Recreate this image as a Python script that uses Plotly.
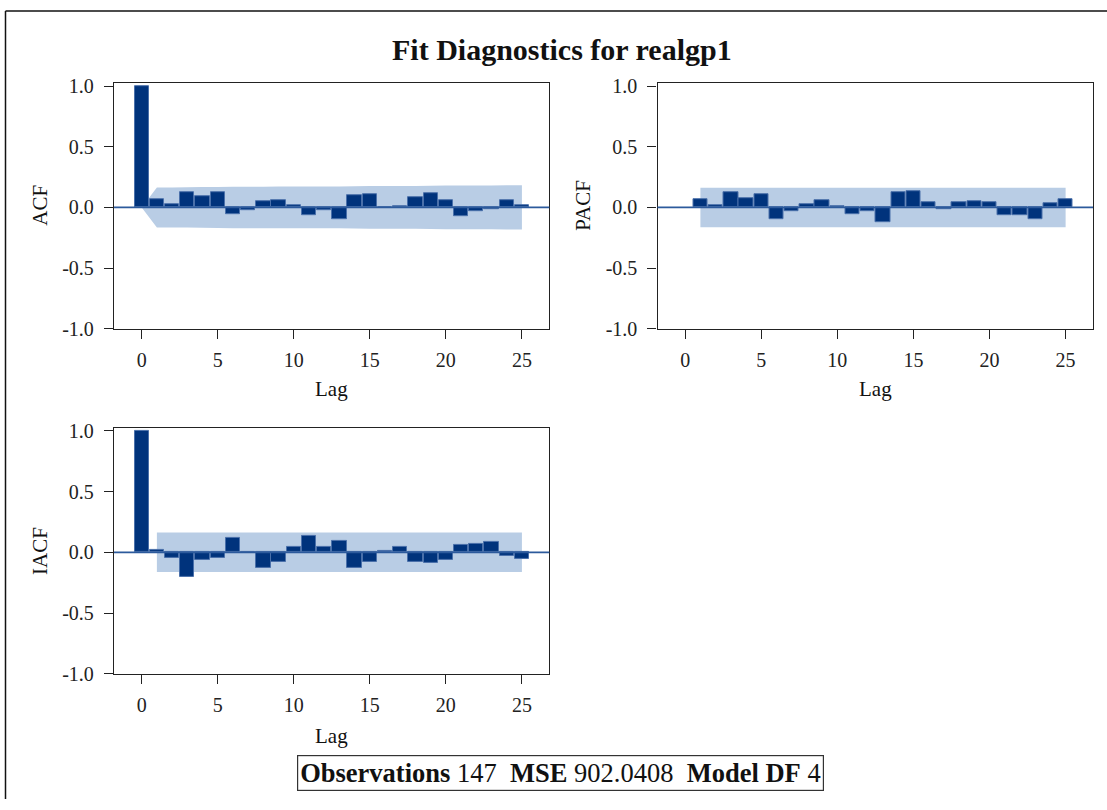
import plotly.graph_objects as go

# ---- data ----
lags_acf = list(range(0, 26))
acf = [1.0, 0.07, 0.024, 0.127, 0.089, 0.122, -0.057, -0.019, 0.054, 0.06, 0.016,
       -0.065, -0.019, -0.098, 0.10, 0.108, 0.002, 0.011, 0.087, 0.119, 0.06,
       -0.07, -0.033, -0.016, 0.06, 0.022]
acf_band = [0.0, 0.165, 0.165, 0.166, 0.168, 0.169, 0.171, 0.171, 0.171, 0.172, 0.172,
            0.172, 0.173, 0.173, 0.174, 0.176, 0.177, 0.177, 0.177, 0.178, 0.180,
            0.181, 0.181, 0.181, 0.182, 0.182]

lags_pacf = list(range(1, 26))
pacf = [0.07, 0.016, 0.122, 0.073, 0.108, -0.095, -0.033, 0.024, 0.06, 0.014,
        -0.057, -0.035, -0.125, 0.127, 0.135, 0.04, -0.016, 0.043, 0.051, 0.046,
        -0.062, -0.065, -0.095, 0.035, 0.065]
pacf_band = [0.163] * 25

lags_iacf = list(range(0, 26))
iacf = [1.0, 0.016, -0.049, -0.204, -0.065, -0.043, 0.122, -0.002, -0.13, -0.082, 0.046,
        0.139, 0.043, 0.092, -0.128, -0.079, 0.011, 0.043, -0.082, -0.084, -0.063,
        0.06, 0.068, 0.084, -0.027, -0.057]
iacf_band = [0.163] * 25
band_lags = list(range(1, 26))

title_text = "Fit Diagnostics for realgp1"
footnote = "<b>Observations</b> 147  <b>MSE</b> 902.0408  <b>Model DF</b> 4"
x_ticks = [0, 5, 10, 15, 20, 25]
y_ticks = [-1.0, -0.5, 0.0, 0.5, 1.0]
y_ticktext = ["-1.0", "-0.5", "0.0", "0.5", "1.0"]

# ---- styles ----
W, H = 1107, 810
FONT = "Liberation Serif"
BAR = "#00337c"
BAR_EDGE = "#4a70aa"
BANDC = "#b9cde5"
ZERO = "#2c5a9c"
AX = "#222222"

fig = go.Figure()

def band_path(blags, upper, lower):
    pts = list(zip(blags, upper)) + list(zip(blags[::-1], lower[::-1]))
    return "M " + " L ".join(f"{x},{y}" for x, y in pts) + " Z"

def add_panel(xa, ya, lags, vals, blags, upper, lower):
    fig.add_shape(type="path", xref=xa, yref=ya, path=band_path(blags, upper, lower),
                  fillcolor=BANDC, line=dict(width=0), layer="below")
    fig.add_trace(go.Bar(
        x=lags, y=vals, width=0.94, marker=dict(color=BAR, line=dict(color=BAR_EDGE, width=1)),
        showlegend=False, xaxis=xa, yaxis=ya))

add_panel("x", "y", lags_acf, acf, lags_acf, acf_band, [-v for v in acf_band])
add_panel("x2", "y2", lags_pacf, pacf, band_lags, pacf_band, [-v for v in pacf_band])
add_panel("x3", "y3", lags_iacf, iacf, band_lags, iacf_band, [-v for v in iacf_band])

def px_x(p):
    return p / W

def px_y(p):
    return 1 - p / H

dom_x1 = [px_x(114), px_x(549.3)]
dom_x2 = [px_x(657.5), px_x(1093)]
dom_y1 = [px_y(328.3), px_y(77)]
dom_y3 = [px_y(681.7), px_y(430)]

xr = [-1.82, 26.8]
yr = [-1.0, 1.025]

common_x = dict(range=xr, tickvals=x_ticks, ticks="outside", ticklen=9, tickwidth=1.3,
                tickcolor=AX, showline=True, linecolor=AX, linewidth=1.3, mirror=True,
                showgrid=False, zeroline=False, tickfont=dict(family=FONT, size=20, color="#222"),
                ticklabelstandoff=4)
common_y = dict(range=yr, tickvals=y_ticks, ticktext=y_ticktext, ticks="outside", ticklen=9,
                tickwidth=1.3, tickcolor=AX, showline=True, linecolor=AX, linewidth=1.3,
                mirror=True, showgrid=False, zeroline=False,
                tickfont=dict(family=FONT, size=20, color="#222"), ticklabelstandoff=6)

fig.update_layout(
    width=W, height=H, margin=dict(l=0, r=0, t=0, b=0),
    paper_bgcolor="white", plot_bgcolor="white", bargap=0,
    xaxis=dict(domain=dom_x1, anchor="y", **common_x),
    yaxis=dict(domain=dom_y1, anchor="x", **common_y),
    xaxis2=dict(domain=dom_x2, anchor="y2", **common_x),
    yaxis2=dict(domain=dom_y1, anchor="x2", **common_y),
    xaxis3=dict(domain=dom_x1, anchor="y3", **common_x),
    yaxis3=dict(domain=dom_y3, anchor="x3", **common_y),
)

# zero lines above the bands
for xa, ya in [("x", "y"), ("x2", "y2"), ("x3", "y3")]:
    fig.add_shape(type="line", xref=f"{xa} domain", yref=ya, x0=0, x1=1, y0=0, y1=0,
                  line=dict(color=ZERO, width=1.6), layer="above")

# outer frame (top and left edges)
fig.add_shape(type="line", xref="paper", yref="paper", x0=px_x(5.5), x1=1, y0=px_y(3), y1=px_y(3),
              line=dict(color="#111", width=1.5))
fig.add_shape(type="line", xref="paper", yref="paper", x0=px_x(5.5), x1=px_x(5.5), y0=0, y1=px_y(3),
              line=dict(color="#111", width=1.5))

ann_font = dict(family=FONT, size=21, color="#111")
anns = [
    dict(text=f"<b>{title_text}</b>", x=px_x(562), y=px_y(42), font=dict(family=FONT, size=30, color="#111")),
    dict(text="Lag", x=px_x(331.6), y=px_y(390), font=ann_font),
    dict(text="Lag", x=px_x(875), y=px_y(390), font=ann_font),
    dict(text="Lag", x=px_x(331.6), y=px_y(745), font=ann_font),
    dict(text="ACF", x=px_x(40), y=px_y(202.5), textangle=-90, font=ann_font),
    dict(text="PACF", x=px_x(583), y=px_y(202.5), textangle=-90, font=ann_font),
    dict(text="IACF", x=px_x(40), y=px_y(556), textangle=-90, font=ann_font),
    dict(text=footnote, x=px_x(560), y=px_y(783), font=dict(family=FONT, size=26.5, color="#111"),
         bordercolor="#333", borderwidth=1.2, borderpad=2, bgcolor="white"),
]
for a in anns:
    fig.add_annotation(xref="paper", yref="paper", showarrow=False, xanchor="center",
                       yanchor="middle", **a)

fig.write_html("out.html")
